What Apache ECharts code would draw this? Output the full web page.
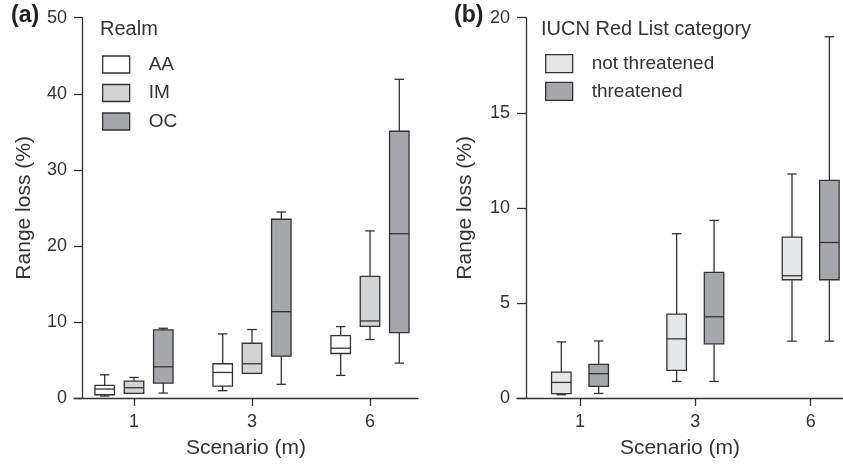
<!DOCTYPE html>
<html>
<head>
<meta charset="utf-8">
<script src="https://cdn.jsdelivr.net/npm/echarts@6/dist/echarts.min.js"></script>
<style>html,body{margin:0;padding:0;background:#fff;}#c{width:843px;height:464px;}</style>
</head>
<body>
<div id="c"></div>
<script>
// Categories (sea-level rise scenario, m)
const categories = ['1', '3', '6'];
// Panel (a) Realm: [min, Q1, median, Q3, max] per scenario
const aaStats = [[0.26, 0.43, 1.18, 1.65, 3.05], [0.96, 1.57, 3.36, 4.5, 8.43], [2.97, 5.85, 6.55, 8.2, 9.39]];
const imStats = [[0.6, 0.6, 1.35, 2.23, 2.7], [3.23, 3.23, 4.5, 7.2, 9.0], [7.69, 9.43, 10.13, 15.98, 21.97]];
const ocStats = [[0.65, 1.96, 4.1, 8.95, 9.17], [1.8, 5.5, 11.35, 23.5, 24.45], [4.59, 8.6, 21.6, 35.07, 41.9]];
// Panel (b) IUCN category
const ntStats = [[0.17, 0.23, 0.82, 1.36, 2.95], [0.87, 1.45, 3.11, 4.41, 8.64], [2.99, 6.22, 6.43, 8.46, 11.78]];
const tStats = [[0.24, 0.61, 1.28, 1.77, 3.0], [0.87, 2.85, 4.27, 6.61, 9.34], [2.99, 6.22, 8.18, 11.45, 19.0]];
const yTicksA = [0, 10, 20, 30, 40, 50];
const yTicksB = [0, 5, 10, 15, 20];

const FONT = "'Liberation Sans', Arial, Helvetica, sans-serif";
const INK = '#333333';
const BOX_W = 19.5, CAP_W = 9.5;

function toData(stats) { return stats.map((s, i) => [i].concat(s)); }

function makeRender(offsetPx, fill) {
  return function (params, api) {
    const x = api.value(0);
    const pMin = api.coord([x, api.value(1)]);
    const pQ1 = api.coord([x, api.value(2)]);
    const pMed = api.coord([x, api.value(3)]);
    const pQ3 = api.coord([x, api.value(4)]);
    const pMax = api.coord([x, api.value(5)]);
    const cx = pMin[0] + offsetPx;
    const ls = { stroke: INK, lineWidth: 1.3, fill: null };
    return {
      type: 'group',
      children: [
        { type: 'line', shape: { x1: cx, y1: pQ3[1], x2: cx, y2: pMax[1] }, style: ls },
        { type: 'line', shape: { x1: cx - CAP_W / 2, y1: pMax[1], x2: cx + CAP_W / 2, y2: pMax[1] }, style: ls },
        { type: 'line', shape: { x1: cx, y1: pQ1[1], x2: cx, y2: pMin[1] }, style: ls },
        { type: 'line', shape: { x1: cx - CAP_W / 2, y1: pMin[1], x2: cx + CAP_W / 2, y2: pMin[1] }, style: ls },
        { type: 'rect', shape: { x: cx - BOX_W / 2, y: pQ3[1], width: BOX_W, height: pQ1[1] - pQ3[1] },
          style: { fill: fill, stroke: INK, lineWidth: 1.3 } },
        { type: 'line', shape: { x1: cx - BOX_W / 2, y1: pMed[1], x2: cx + BOX_W / 2, y2: pMed[1] }, style: ls }
      ]
    };
  };
}

const colors = { AA: '#ffffff', IM: '#d2d3d5', OC: '#a6a7aa', nt: '#e6e7e8', t: '#a6a7aa' };

function xAxisCfg(gridIndex, min, max) {
  return {
    type: 'value', gridIndex: gridIndex, min: min, max: max,
    name: 'Scenario (m)', nameLocation: 'middle', nameGap: 40,
    nameTextStyle: { fontFamily: FONT, fontSize: 21, color: INK },
    axisLine: { onZero: false, lineStyle: { color: INK, width: 1.3 } },
    axisTick: { show: true, customValues: [0, 1, 2], length: 8, lineStyle: { color: INK, width: 1.3 } },
    axisLabel: { customValues: [0, 1, 2], formatter: v => categories[Math.round(v)], margin: 15,
      fontFamily: FONT, fontSize: 18, color: INK },
    splitLine: { show: false }
  };
}
function yAxisCfg(gridIndex, max, interval, offset, gap) {
  return {
    type: 'value', gridIndex: gridIndex, min: 0, max: max, interval: interval, offset: offset,
    name: 'Range loss (%)', nameLocation: 'middle', nameGap: gap,
    nameTextStyle: { fontFamily: FONT, fontSize: 21, color: INK },
    axisLine: { show: true, onZero: false, lineStyle: { color: INK, width: 1.3 } },
    axisTick: { show: true, length: -offset, lineStyle: { color: INK, width: 1.3 } },
    axisLabel: { margin: -offset + 7, fontFamily: FONT, fontSize: 18, color: INK },
    splitLine: { show: false }
  };
}

function legendItem(name, fill) {
  return { name: name, icon: 'rect', itemStyle: { color: fill, borderColor: INK, borderWidth: 1.3 } };
}

const option = {
  animation: false,
  backgroundColor: '#ffffff',
  title: [
    { text: '(a)', left: 11, top: 4, padding: 0, textStyle: { fontFamily: FONT, fontSize: 23, fontWeight: 'bold', color: '#222' } },
    { text: '(b)', left: 454, top: 4, padding: 0, textStyle: { fontFamily: FONT, fontSize: 23, fontWeight: 'bold', color: '#222' } },
    { text: 'Realm', left: 100, top: 19, padding: 0, textStyle: { fontFamily: FONT, fontSize: 20, fontWeight: 'normal', color: INK } },
    { text: 'IUCN Red List category', left: 541, top: 19, padding: 0, textStyle: { fontFamily: FONT, fontSize: 20, fontWeight: 'normal', color: INK } }
  ],
  legend: [
    { orient: 'vertical', left: 102, top: 55, padding: 0, itemWidth: 27, itemHeight: 17, itemGap: 9.5,
      selectedMode: false,
      textStyle: { fontFamily: FONT, fontSize: 19, color: INK, padding: [0, 0, 0, 14] },
      data: [legendItem('AA', colors.AA), legendItem('IM', colors.IM), legendItem('OC', colors.OC)] },
    { orient: 'vertical', left: 545, top: 54, padding: 0, itemWidth: 27, itemHeight: 18, itemGap: 8.5,
      selectedMode: false,
      textStyle: { fontFamily: FONT, fontSize: 19, color: INK, padding: [0, 0, 0, 14] },
      data: [legendItem('not threatened', colors.nt), legendItem('threatened', colors.t)] }
  ],
  grid: [
    { left: 74, top: 17.7, width: 344, height: 381.6 },
    { left: 517, top: 17.7, width: 326, height: 381.3 }
  ],
  xAxis: [
    xAxisCfg(0, -(134 - 74) / 118, 2 + (418 - 370) / 118),
    xAxisCfg(1, -(580 - 517) / 115.33, 2 + (843 - 810.7) / 115.33)
  ],
  yAxis: [
    yAxisCfg(0, yTicksA[yTicksA.length - 1], yTicksA[1] - yTicksA[0], -8, 47),
    yAxisCfg(1, yTicksB[yTicksB.length - 1], yTicksB[1] - yTicksB[0], -9, 50)
  ],
  series: [
    { name: 'AA', type: 'custom', xAxisIndex: 0, yAxisIndex: 0, itemStyle: { color: colors.AA },
      renderItem: makeRender(-29.3, colors.AA), data: toData(aaStats) },
    { name: 'IM', type: 'custom', xAxisIndex: 0, yAxisIndex: 0, itemStyle: { color: colors.IM },
      renderItem: makeRender(0, colors.IM), data: toData(imStats) },
    { name: 'OC', type: 'custom', xAxisIndex: 0, yAxisIndex: 0, itemStyle: { color: colors.OC },
      renderItem: makeRender(29.3, colors.OC), data: toData(ocStats) },
    { name: 'not threatened', type: 'custom', xAxisIndex: 1, yAxisIndex: 1, itemStyle: { color: colors.nt },
      renderItem: makeRender(-18.7, colors.nt), data: toData(ntStats) },
    { name: 'threatened', type: 'custom', xAxisIndex: 1, yAxisIndex: 1, itemStyle: { color: colors.t },
      renderItem: makeRender(18.7, colors.t), data: toData(tStats) }
  ]
};

const chart = echarts.init(document.getElementById('c'), null, { renderer: 'canvas' });
chart.setOption(option);
</script>
</body>
</html>
